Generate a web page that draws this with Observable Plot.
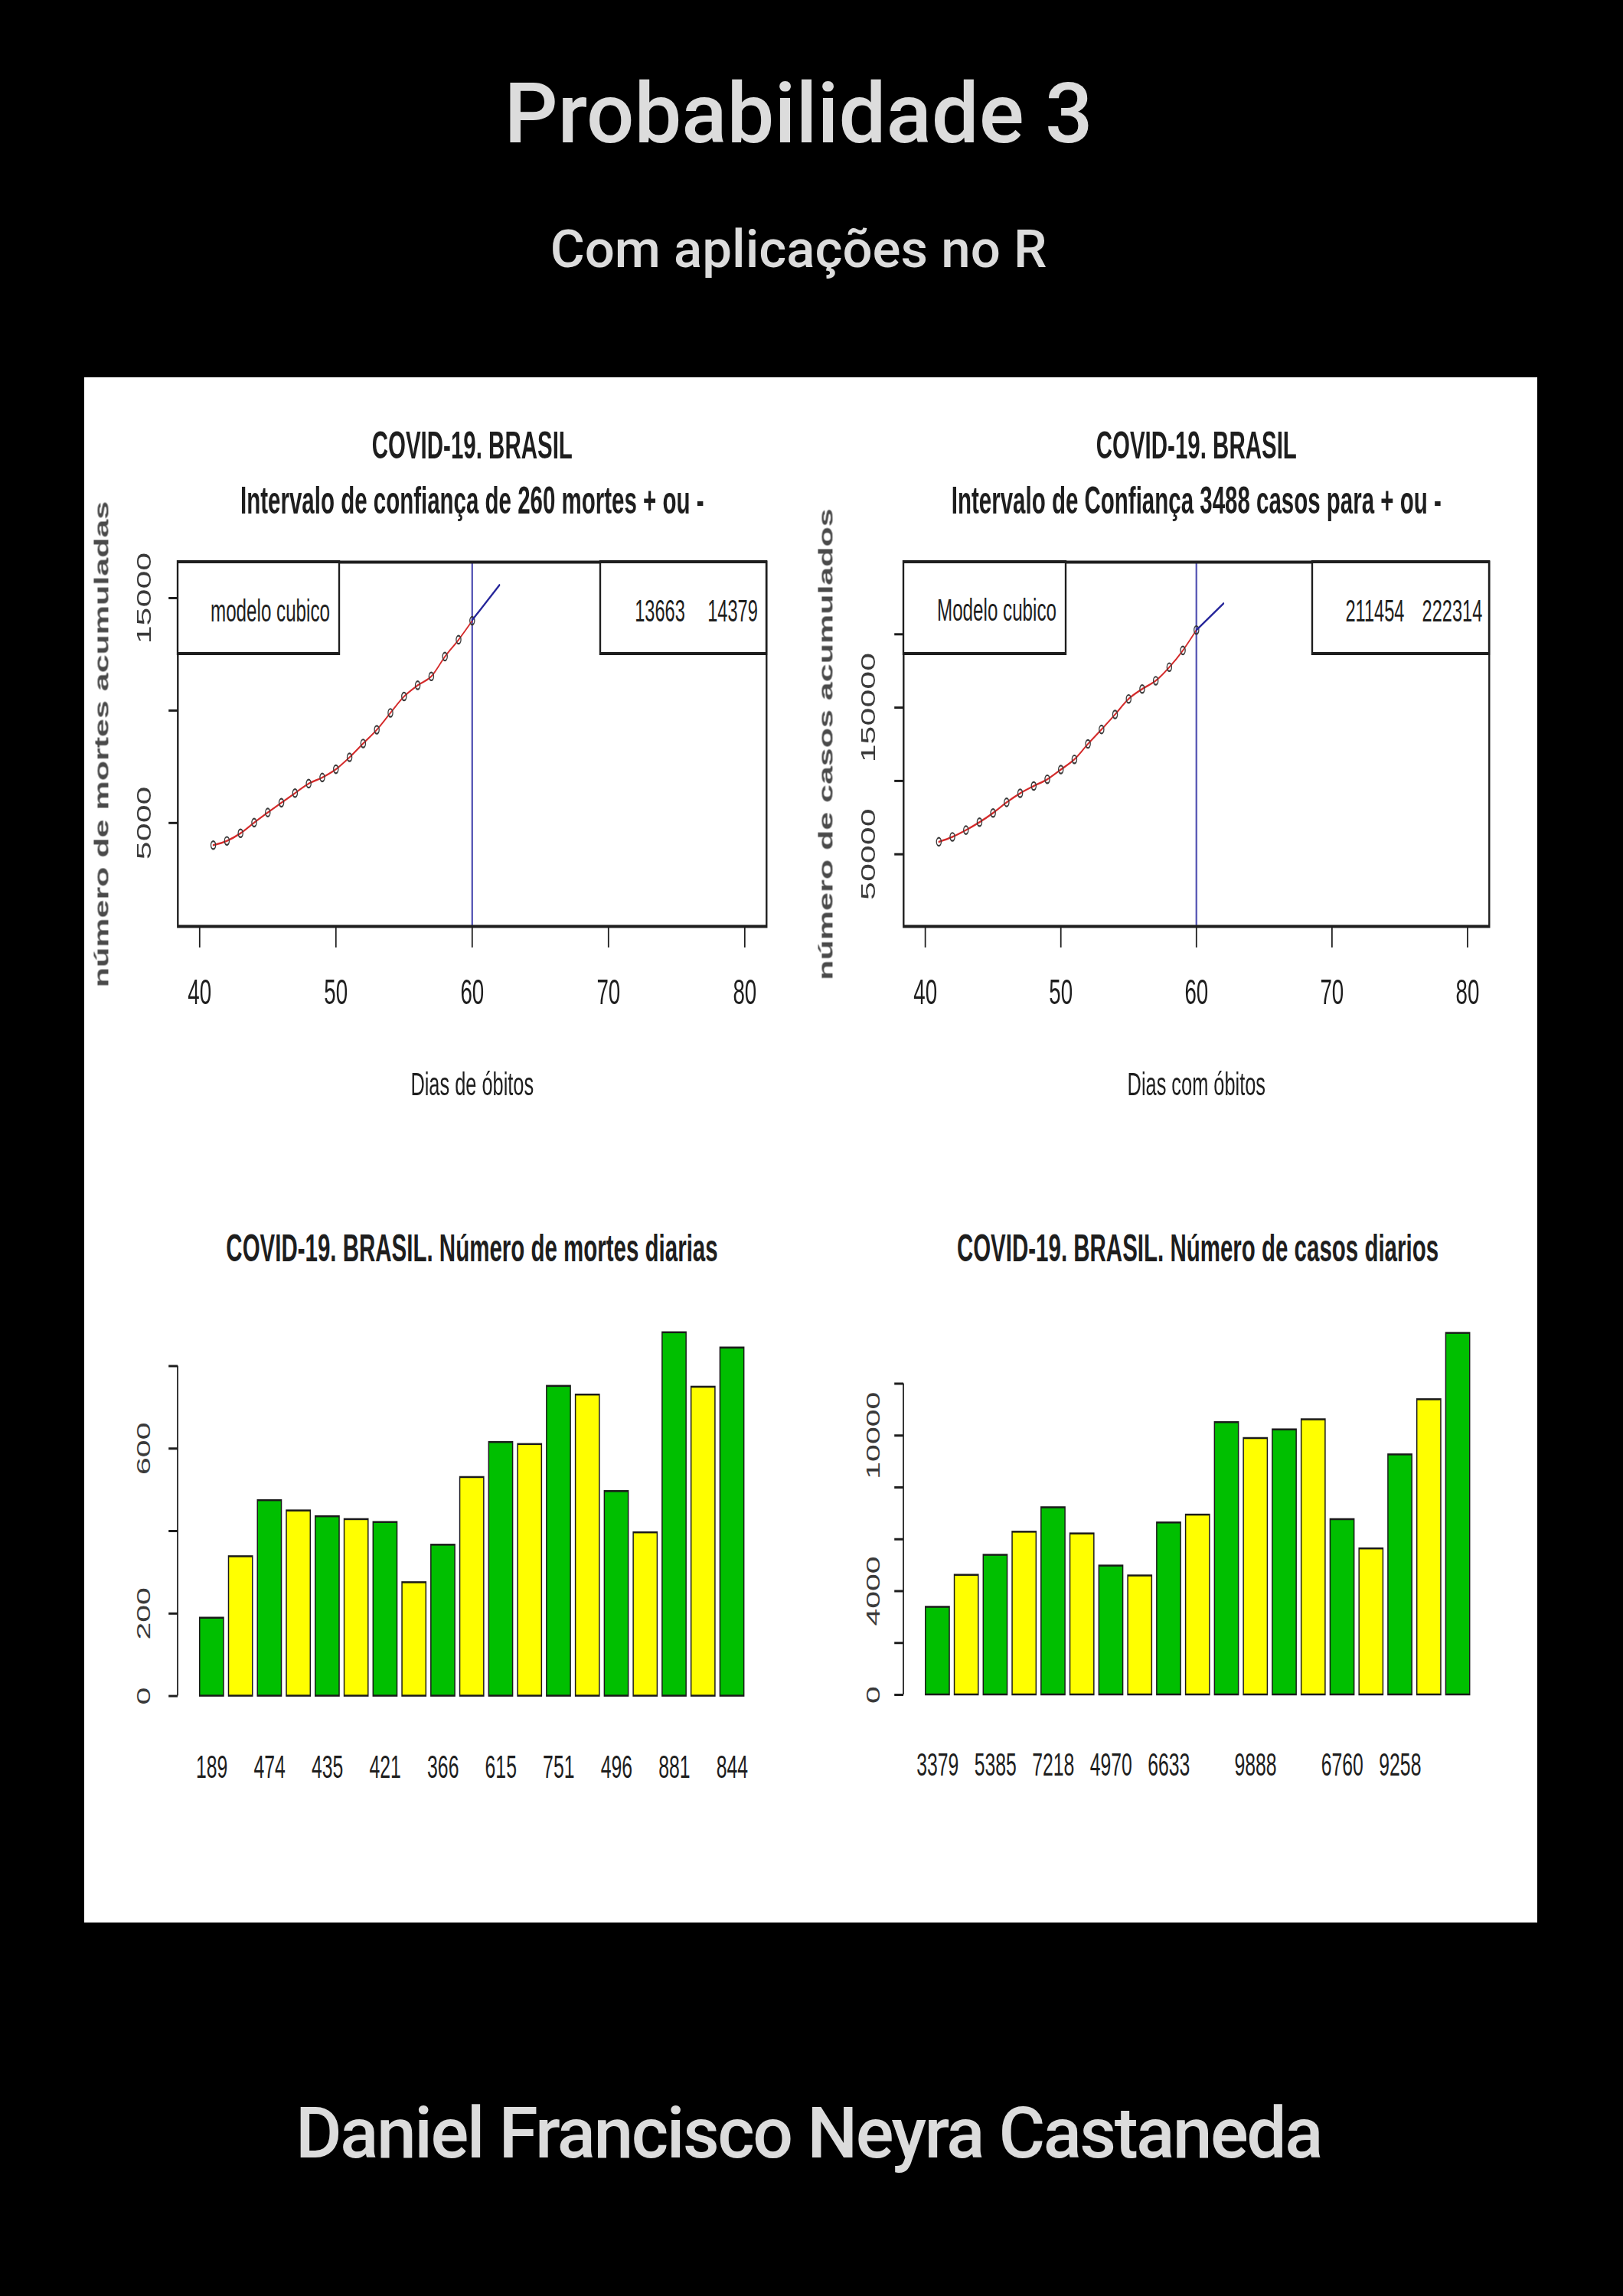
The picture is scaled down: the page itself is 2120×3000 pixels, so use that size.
<!DOCTYPE html>
<html>
<head>
<meta charset="utf-8">
<script src="https://cdn.jsdelivr.net/npm/d3@7"></script>
<script src="https://cdn.jsdelivr.net/npm/@observablehq/plot@0.6"></script>
<style>
html, body { margin: 0; padding: 0; background: #000; }
#page { position: relative; width: 2120px; height: 3000px; background: #000; overflow: hidden; font-family: Roboto, "Open Sans", sans-serif; }
.head { position: absolute; left: 0; text-align: center; color: #dcdcdc; white-space: nowrap; line-height: 1; font-weight: 500; }
#panel { position: absolute; left: 110px; top: 493px; width: 1898px; height: 2019px; background: #fff; }
.chart { position: absolute; transform-origin: 0 0; }
.chart svg { display: block; max-width: none !important; }
</style>
</head>
<body>
<div id="page">
  <div class="head" style="top:94px;width:2086px;font-size:110px;">Probabilidade 3</div>
  <div class="head" style="top:291px;width:2086px;font-size:69px;">Com aplicações no R</div>
  <div id="panel"></div>
  <div class="head" style="top:2741px;width:2112px;font-size:93px;letter-spacing:-2.5px;">Daniel Francisco Neyra Castaneda</div>
</div>
<script>
// ---------------- data ----------------
const diasAcumulados = [41, 42, 43, 44, 45, 46, 47, 48, 49, 50, 51, 52, 53, 54, 55, 56, 57, 58, 59, 60];
const mortesAcumuladas = [4016, 4205, 4543, 5017, 5466, 5901, 6329, 6750, 7025, 7391, 7921, 8536, 9146, 9897, 10627, 11123, 11519, 12400, 13149, 13993];
const casosAcumulados = [58509, 61888, 66501, 71886, 78162, 85380, 91589, 96559, 101147, 107780, 114715, 125218, 135106, 145328, 155939, 162699, 168331, 177589, 188974, 202918];
const diasProjecao = [60, 62];
const mortesProjecao = [14021, 15580];
const casosProjecao = [202900, 221000];
const diaCorte = 60;
const icMortes = [13663, 14379];
const icCasos = [211454, 222314];
const limitesDias = [40, 80];
const ticksDias = [40, 50, 60, 70, 80];
const limitesMortesAcum = [1000, 16000];
const ticksMortesAcum = [5000, 10000, 15000];
const rotulosMortesAcum = [5000, 15000];
const limitesCasosAcum = [10000, 240000];
const ticksCasosAcum = [50000, 100000, 150000, 200000];
const rotulosCasosAcum = [50000, 150000];

const mortesDiarias = [189, 338, 474, 449, 435, 428, 421, 275, 366, 530, 615, 610, 751, 730, 496, 396, 881, 749, 844];
const casosDiarios = [3379, 4613, 5385, 6276, 7218, 6209, 4970, 4588, 6633, 6935, 10503, 9888, 10222, 10611, 6760, 5632, 9258, 11385, 13944];
const nomesMortes = ["189", "", "474", "", "435", "", "421", "", "366", "", "615", "", "751", "", "496", "", "881", "", "844"];
const nomesCasos = ["3379", "", "5385", "", "7218", "", "4970", "", "6633", "", "", "9888", "", "", "6760", "", "9258", "", ""];
const ticksMortesDiarias = [0, 200, 400, 600, 800];
const rotulosMortesDiarias = [0, 200, 600];
const ticksCasosDiarios = [0, 2000, 4000, 6000, 8000, 10000, 12000];
const rotulosCasosDiarios = [0, 4000, 10000];
const coresBarras = ["#00bf00", "#ffff00"];

// ---------------- helpers ----------------
const C = 0.59;               // horizontal squeeze of the original R picture
const FONT = "'Liberation Sans', Arial, Helvetica, sans-serif";
const INK = "#1e1e1e";
const page = document.getElementById("page");

function ext(lim) { const d = lim[1] - lim[0]; return [lim[0] - 0.04 * d, lim[1] + 0.04 * d]; }

function place(svg, left, top, w) {
  const div = document.createElement("div");
  div.className = "chart";
  div.style.left = left + "px";
  div.style.top = top + "px";
  div.style.width = w + "px";
  div.style.transform = `scaleX(${C})`;
  div.appendChild(svg);
  page.appendChild(div);
}

function legenda(lado, larguraF, alturaF, itens) {
  return (index, scales, values, dim) => {
    const w = larguraF / C;
    const x0 = lado === "esq" ? dim.marginLeft : dim.width - dim.marginRight - w;
    const y0 = dim.marginTop;
    const g = d3.create("svg:g");
    g.append("rect").attr("x", x0).attr("y", y0).attr("width", w).attr("height", alturaF)
      .attr("fill", "white").attr("stroke", INK).attr("stroke-width", 4);
    for (const it of itens) {
      g.append("text").attr("x", x0 + it.cx / C).attr("y", y0 + it.cy)
        .attr("text-anchor", "middle").attr("dy", "0.35em")
        .attr("font-size", it.fs).attr("fill", INK).attr("font-family", FONT)
        .text(it.texto);
    }
    return g.node();
  };
}

function linhaEixoY(v1, v2) {
  return (index, scales, values, dim) => {
    return d3.create("svg:line")
      .attr("x1", dim.marginLeft).attr("x2", dim.marginLeft)
      .attr("y1", scales.y(v1)).attr("y2", scales.y(v2))
      .attr("stroke", INK).attr("stroke-width", 3).node();
  };
}

// ---------------- cumulative charts ----------------
function grafAcumulado(cfg) {
  const tabela = cfg.dias.map((d, i) => ({dia: d, valor: cfg.valores[i]}));
  const proj = cfg.projDias.map((d, i) => ({dia: d, valor: cfg.projValores[i]}));
  const W = cfg.wF / C;
  const svg = Plot.plot({
    width: W, height: cfg.h,
    marginLeft: cfg.mlF / C, marginRight: cfg.mrF / C, marginTop: cfg.mt, marginBottom: cfg.mb,
    style: {fontFamily: FONT, color: INK, background: "transparent", overflow: "visible", maxWidth: "none"},
    x: {domain: ext(limitesDias)},
    y: {domain: ext(cfg.limY)},
    marks: [
      Plot.ruleX([cfg.corte], {x: d => d, stroke: "#5a5ab6", strokeWidth: 4}),
      Plot.line(tabela, {x: "dia", y: "valor", stroke: "#d42a2a", strokeWidth: 2.5, curve: "monotone-x"}),
      Plot.dot(tabela, {x: "dia", y: "valor", r: 5.2, stroke: "#3a3a3a", strokeWidth: 2.2, fill: "none"}),
      Plot.line(proj, {x: "dia", y: "valor", stroke: "#25259a", strokeWidth: 3}),
      Plot.frame({stroke: INK, strokeWidth: 4}),
      legenda("esq", cfg.legEsq.w, 120, cfg.legEsq.itens),
      legenda("dir", cfg.legDir.w, 120, cfg.legDir.itens),
      Plot.axisX({ticks: ticksDias, tickSize: 28, tickPadding: 40, fontSize: 47, strokeWidth: 3, label: null, tickFormat: d => String(d)}),
      Plot.axisY({ticks: cfg.ticksY, tickSize: 20, strokeWidth: 3, label: null, tickFormat: () => ""}),
      Plot.text(cfg.rotulosY, {y: d => d, text: d => String(d), frameAnchor: "left", dx: -cfg.offTickF / C, rotate: -90, fontSize: 43, fill: "#3a3a3a", textAnchor: "middle", lineAnchor: "middle"}),
      Plot.text([cfg.ylab], {text: d => d, frameAnchor: "left", dx: -cfg.offLabF / C, rotate: -90, fontSize: 43, fontWeight: "bold", fill: "#4a4a4a", textAnchor: "middle", lineAnchor: "middle"}),
      Plot.text([cfg.titulo1], {text: d => d, frameAnchor: "top", dy: -171, fontSize: 50, fontWeight: "bold", fill: INK}),
      Plot.text([cfg.titulo2], {text: d => d, frameAnchor: "top", dy: -99, fontSize: 50, fontWeight: "bold", fill: INK}),
      Plot.text([cfg.xlab], {text: d => d, frameAnchor: "bottom", dy: 221, fontSize: 43, fill: INK})
    ]
  });
  place(svg, cfg.left, cfg.top, W);
}

grafAcumulado({
  left: 115, top: 500, wF: 900, h: 960, mlF: 117, mrF: 14, mt: 234, mb: 250,
  dias: diasAcumulados, valores: mortesAcumuladas, projDias: diasProjecao, projValores: mortesProjecao,
  corte: diaCorte, limY: limitesMortesAcum, ticksY: ticksMortesAcum, rotulosY: rotulosMortesAcum,
  offTickF: 43, offLabF: 98.5,
  ylab: "número de mortes acumuladas",
  titulo1: "COVID-19. BRASIL", titulo2: "Intervalo de confiança de 260 mortes + ou -",
  xlab: "Dias de óbitos",
  legEsq: {w: 211, itens: [{texto: "modelo cubico", cx: 121, cy: 64, fs: 41}]},
  legDir: {w: 217, itens: [{texto: String(icMortes[0]), cx: 78, cy: 64, fs: 40}, {texto: String(icMortes[1]), cx: 173, cy: 64, fs: 40}]}
});

grafAcumulado({
  left: 1030, top: 500, wF: 970, h: 960, mlF: 150, mrF: 55, mt: 234, mb: 250,
  dias: diasAcumulados, valores: casosAcumulados, projDias: diasProjecao, projValores: casosProjecao,
  corte: diaCorte, limY: limitesCasosAcum, ticksY: ticksCasosAcum, rotulosY: rotulosCasosAcum,
  offTickF: 45, offLabF: 100.5,
  ylab: "número de casos acumulados",
  titulo1: "COVID-19. BRASIL", titulo2: "Intervalo de Confiança 3488 casos para + ou -",
  xlab: "Dias com óbitos",
  legEsq: {w: 212, itens: [{texto: "Modelo cubico", cx: 122, cy: 63, fs: 41}]},
  legDir: {w: 231, itens: [{texto: String(icCasos[0]), cx: 82, cy: 64, fs: 40}, {texto: String(icCasos[1]), cx: 183, cy: 64, fs: 40}]}
});

// ---------------- bar charts ----------------
function grafBarras(cfg) {
  const tabela = cfg.valores.map((v, i) => ({i, v, cor: coresBarras[i % 2], nome: cfg.nomes[i]}));
  const W = cfg.wF / C;
  const maxV = d3.max(cfg.valores);
  const svg = Plot.plot({
    width: W, height: cfg.h,
    marginLeft: cfg.mlF / C, marginRight: cfg.mrF / C, marginTop: cfg.mt, marginBottom: cfg.mb,
    style: {fontFamily: FONT, color: INK, background: "transparent", overflow: "visible", maxWidth: "none"},
    x: {type: "band", domain: d3.range(cfg.valores.length), paddingInner: 0.2 / 1.2, paddingOuter: 0.904 / 1.2, align: 0.5, axis: null},
    y: {domain: ext([0, maxV]), axis: null},
    color: {type: "identity"},
    marks: [
      Plot.barY(tabela, {x: "i", y: "v", fill: "cor", stroke: "#1a1a1a", strokeWidth: 2.5}),
      linhaEixoY(cfg.ticksY[0], cfg.ticksY[cfg.ticksY.length - 1]),
      Plot.axisY({ticks: cfg.ticksY, tickSize: 20, strokeWidth: 3, label: null, tickFormat: () => ""}),
      Plot.text(cfg.rotulosY, {y: d => d, text: d => String(d), frameAnchor: "left", dx: -cfg.offTickF / C, rotate: -90, fontSize: 41, fill: "#3a3a3a", textAnchor: "middle", lineAnchor: "middle"}),
      Plot.text(tabela.filter(d => d.nome !== ""), {x: "i", text: "nome", frameAnchor: "bottom", dy: cfg.dyNomes, fontSize: 42, fill: INK}),
      Plot.text([cfg.titulo], {text: d => d, frameAnchor: "top", dy: cfg.dyTitulo, fontSize: 50, fontWeight: "bold", fill: INK})
    ]
  });
  place(svg, cfg.left, cfg.top, W);
}

grafBarras({
  left: 115, top: 1540, wF: 900, h: 800, mlF: 117, mrF: 14.6, mt: 181.8, mb: 105.4,
  valores: mortesDiarias, nomes: nomesMortes, ticksY: ticksMortesDiarias, rotulosY: rotulosMortesDiarias,
  offTickF: 44, dyNomes: 88, dyTitulo: -110,
  titulo: "COVID-19. BRASIL. Número de mortes diarias"
});

grafBarras({
  left: 1030, top: 1540, wF: 970, h: 800, mlF: 150, mrF: 51.6, mt: 182.7, mb: 107.1,
  valores: casosDiarios, nomes: nomesCasos, ticksY: ticksCasosDiarios, rotulosY: rotulosCasosDiarios,
  offTickF: 39, dyNomes: 87, dyTitulo: -111,
  titulo: "COVID-19. BRASIL. Número de casos diarios"
});
</script>
</body>
</html>
